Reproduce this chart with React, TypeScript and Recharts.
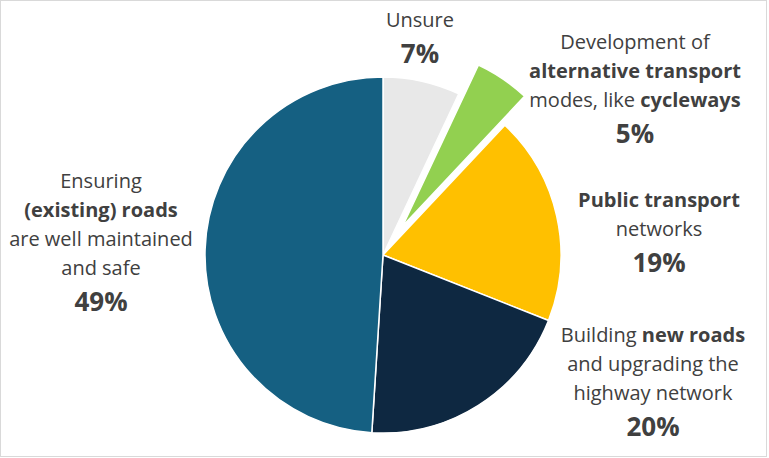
import React from "react";
import { PieChart, Pie, Cell } from "recharts";

const categories = [
  "Unsure",
  "Development of alternative transport modes, like cycleways",
  "Public transport networks",
  "Building new roads and upgrading the highway network",
  "Ensuring (existing) roads are well maintained and safe",
];
const shares = [7, 5, 19, 20, 49];
const colors = ["#E8E8E8", "#92D050", "#FFC000", "#0E2841", "#156082"];
const explodedIndex = 1;

// label text, split in lines of [text, bold] segments
const labelLines: [string, boolean][][][] = [
  [[["Unsure", false]]],
  [
    [["Development of", false]],
    [["alternative transport", true]],
    [["modes, like ", false], ["cycleways", true]],
  ],
  [[["Public transport", true]], [["networks", false]]],
  [
    [["Building ", false], ["new roads", true]],
    [["and upgrading the", false]],
    [["highway network", false]],
  ],
  [
    [["Ensuring", false]],
    [["(existing) roads", true]],
    [["are well maintained", false]],
    [["and safe", false]],
  ],
];

// hand-placed label anchors (centre x, first baseline y), like the original
const labelAnchors = [
  { x: 420, y: 27 },
  { x: 635, y: 49 },
  { x: 659, y: 207 },
  { x: 653, y: 342 },
  { x: 101, y: 188 },
];

const data = categories.map((name, i) => ({ name, value: shares[i] }));

const CX = 383;
const CY = 255;
const RADIUS = 178;
const EXPLODE = 35;

const total = shares.reduce((a, b) => a + b, 0);
const before = shares.slice(0, explodedIndex).reduce((a, b) => a + b, 0);
const midDeg = 90 - ((before + shares[explodedIndex] / 2) / total) * 360;
const dx = EXPLODE * Math.cos((midDeg * Math.PI) / 180);
const dy = -EXPLODE * Math.sin((midDeg * Math.PI) / 180);

const TEXT = "#404040";
const FONT = "'Open Sans', sans-serif";

function renderLabel(props: any) {
  const i = props.index;
  const anchor = labelAnchors[i];
  const lines = labelLines[i];
  const lineGap = 29;
  return (
    <g key={`lbl-${i}`}>
      {lines.map((segs, li) => (
        <text
          key={li}
          x={anchor.x}
          y={anchor.y + li * lineGap}
          textAnchor="middle"
          fill={TEXT}
          fontFamily={FONT}
          fontSize={20}
        >
          {segs.map(([t, b], si) => (
            <tspan key={si} fontWeight={b ? 700 : 400}>
              {t}
            </tspan>
          ))}
        </text>
      ))}
      <text
        x={anchor.x}
        y={anchor.y + (lines.length - 1) * lineGap + 36}
        textAnchor="middle"
        fill={TEXT}
        fontFamily={FONT}
        fontSize={26}
        fontWeight={700}
      >
        {shares[i]}%
      </text>
    </g>
  );
}

export default function App() {
  return (
    <div
      style={{
        position: "fixed",
        left: 0,
        top: 0,
        width: 767,
        height: 457,
        border: "1px solid #D9D9D9",
        boxSizing: "border-box",
        background: "#fff",
      }}
    >
      <PieChart
        width={767}
        height={457}
        margin={{ top: 0, right: 0, bottom: 0, left: 0 }}
        style={{ position: "absolute", left: -1, top: -1 }}
      >
        <Pie
          data={data}
          dataKey="value"
          nameKey="name"
          cx={CX}
          cy={CY}
          outerRadius={RADIUS}
          startAngle={90}
          endAngle={-270}
          stroke="#fff"
          strokeWidth={1.5}
          label={renderLabel}
          labelLine={false}
          isAnimationActive={false}
        >
          {data.map((d, i) => (
            <Cell
              key={d.name}
              fill={i === explodedIndex ? "transparent" : colors[i]}
              stroke={i === explodedIndex ? "none" : "#fff"}
            />
          ))}
        </Pie>
        <Pie
          data={data}
          dataKey="value"
          nameKey="name"
          cx={CX + dx}
          cy={CY + dy}
          outerRadius={RADIUS}
          startAngle={90}
          endAngle={-270}
          stroke="#fff"
          strokeWidth={1.5}
          isAnimationActive={false}
        >
          {data.map((d, i) => (
            <Cell
              key={d.name}
              fill={i === explodedIndex ? colors[i] : "transparent"}
              stroke={i === explodedIndex ? "#fff" : "none"}
            />
          ))}
        </Pie>
      </PieChart>
    </div>
  );
}
